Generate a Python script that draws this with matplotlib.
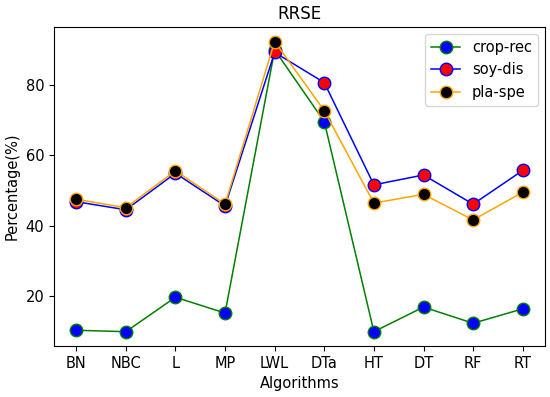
import matplotlib
matplotlib.use('Agg')
import matplotlib.pyplot as plt

algorithms = ['BN', 'NBC', 'L', 'MP', 'LWL', 'DTa', 'HT', 'DT', 'RF', 'RT']
crop_rec = [10.2, 9.8, 19.6, 15.1, 90.0, 69.6, 9.8, 16.8, 12.2, 16.3]
soy_dis = [46.8, 44.5, 54.9, 45.6, 89.3, 80.7, 51.6, 54.4, 46.1, 55.7]
pla_spe = [47.5, 45.1, 55.6, 46.1, 92.4, 72.7, 46.4, 48.9, 41.6, 49.5]

plt.rcParams['font.size'] = 10.5

fig, ax = plt.subplots(figsize=(5.5, 3.97), dpi=100)

ax.plot(algorithms, crop_rec, color='green', marker='o', markersize=9,
        markerfacecolor='blue', markeredgecolor='green', linewidth=1.1, label='crop-rec')
ax.plot(algorithms, soy_dis, color='blue', marker='o', markersize=9,
        markerfacecolor='red', markeredgecolor='blue', linewidth=1.1, label='soy-dis')
ax.plot(algorithms, pla_spe, color='orange', marker='o', markersize=9,
        markerfacecolor='black', markeredgecolor='orange', linewidth=1.1, label='pla-spe')

ax.set_title('RRSE', fontsize=12)
ax.set_xlabel('Algorithms')
ax.set_ylabel('Percentage(%)')
ax.set_yticks([20, 40, 60, 80])
ax.legend(loc='upper right')

plt.subplots_adjust(left=0.098, right=0.991, top=0.932, bottom=0.128)
plt.savefig('out.png')
